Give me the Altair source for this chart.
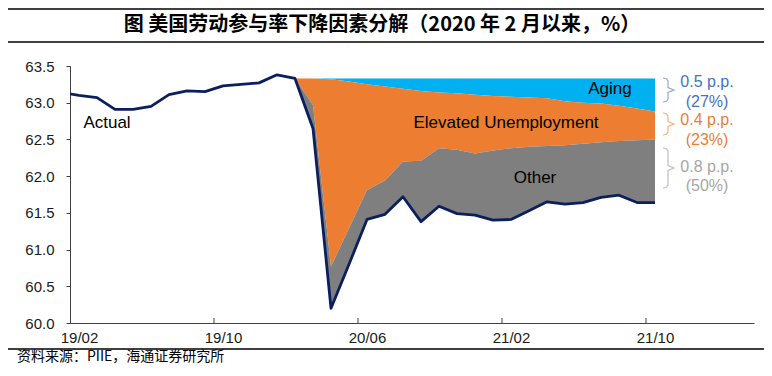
import altair as alt
import pandas as pd

# ---------------- data ----------------
months = ["19/01", "19/02", "19/03", "19/04", "19/05", "19/06", "19/07", "19/08",
          "19/09", "19/10", "19/11", "19/12", "20/01", "20/02", "20/03", "20/04",
          "20/05", "20/06", "20/07", "20/08", "20/09", "20/10", "20/11", "20/12",
          "21/01", "21/02", "21/03", "21/04", "21/05", "21/06", "21/07", "21/08",
          "21/09", "21/10"]
actual = [63.14, 63.10, 63.07, 62.91, 62.91, 62.95, 63.11, 63.16, 63.15, 63.23,
          63.25, 63.27, 63.38, 63.33, 62.65, 60.20, 60.80, 61.41, 61.48, 61.72,
          61.38, 61.59, 61.49, 61.47, 61.40, 61.41, 61.53, 61.65, 61.62, 61.64,
          61.71, 61.74, 61.64, 61.64]
# decomposition since 2020/02 (percentage points)
decomp_start = "20/02"
aging = [0.00, 0.00, 0.01, 0.04, 0.08, 0.11, 0.14, 0.17, 0.19, 0.20, 0.22,
         0.24, 0.25, 0.26, 0.27, 0.31, 0.33, 0.34, 0.37, 0.41, 0.45]
unemployment = [0.00, 0.36, 2.55, 2.00, 1.44, 1.28, 0.99, 0.95, 0.76, 0.77, 0.80,
                0.74, 0.70, 0.67, 0.65, 0.60, 0.56, 0.53, 0.48, 0.43, 0.38]

tick_labels = ["19/02", "19/10", "20/06", "21/02", "21/10"]
y_ticks = [60.0, 60.5, 61.0, 61.5, 62.0, 62.5, 63.0, 63.5]

title_text = "图  美国劳动参与率下降因素分解（2020 年 2 月以来，%）"
source_text = "资料来源：PIIE，海通证券研究所"
series_labels = ["Actual", "Aging", "Elevated Unemployment", "Other"]
side_labels = [["0.5 p.p.", "(27%)"], ["0.4 p.p.", "(23%)"], ["0.8 p.p.", "(50%)"]]

# ---------------- tables ----------------
# month index: 0 = 2019/02
t_index = [i - 1 for i in range(len(months))]
df_line = pd.DataFrame({"t": t_index, "v": actual, "m": months})

s = months.index(decomp_start)
top = actual[s]
rows = []
for j in range(len(aging)):
    a_bot = top - aging[j]
    u_bot = a_bot - unemployment[j]
    rows.append({"t": t_index[s + j], "top": top, "a_bot": a_bot,
                 "u_bot": u_bot, "o_bot": actual[s + j]})
df_area = pd.DataFrame(rows)

tick_values = [t_index[months.index(lab)] for lab in tick_labels]
label_expr = ""
for v, lab in zip(tick_values, tick_labels):
    label_expr += f"datum.value == {v} ? '{lab}' : "
label_expr += "''"

# ---------------- style ----------------
W, H = 684, 257
AX = "#404040"
FONT = "Liberation Sans"
CJK = "Noto Sans CJK SC"
x_scale = alt.Scale(domain=[-0.5, 37.5], nice=False, zero=False)
y_scale = alt.Scale(domain=[60, 63.5], nice=False, zero=False)

x_axis = alt.Axis(values=tick_values, labelExpr=label_expr, ticks=False, grid=False,
                  domainColor=AX, domainWidth=1, labelFont=FONT, labelFontSize=15,
                  labelColor="#1a1a1a", labelPadding=7, title=None, labelFlush=False,
                  labelOverlap=False)
y_axis = alt.Axis(values=y_ticks, format=".1f", tickSize=4, tickColor=AX,
                  domainColor=AX, domainWidth=1, labelFont=FONT, labelFontSize=15,
                  labelColor="#1a1a1a", labelPadding=12, grid=False, title=None,
                  labelOverlap=False, labelFlush=False)

X = alt.X("t:Q", scale=x_scale, axis=x_axis)

aging_area = alt.Chart(df_area).mark_area(color="#00B0F0").encode(
    x=X, y=alt.Y("top:Q", scale=y_scale, axis=y_axis), y2="a_bot:Q")
unemp_area = alt.Chart(df_area).mark_area(color="#ED7D31").encode(
    x=X, y=alt.Y("a_bot:Q", scale=y_scale, axis=y_axis), y2="u_bot:Q")
other_area = alt.Chart(df_area).mark_area(color="#7F7F7F").encode(
    x=X, y=alt.Y("u_bot:Q", scale=y_scale, axis=y_axis), y2="o_bot:Q")
line = alt.Chart(df_line).mark_line(color="#0B1F5E", strokeWidth=2.8,
                                    strokeJoin="round", clip=True).encode(
    x=X, y=alt.Y("v:Q", scale=y_scale, axis=y_axis))

xticks = alt.Chart(pd.DataFrame({"t": [v - 0.5 for v in tick_values[1:]]})).mark_rule(
    color=AX, strokeWidth=1).encode(
    x=alt.X("t:Q", scale=x_scale, axis=x_axis), y=alt.value(H), y2=alt.value(H - 5))

one = pd.DataFrame({"k": [0]})


def txt(text, x, y, size, color="#000000", font=FONT, weight="normal", align="center"):
    return alt.Chart(one).mark_text(fontSize=size, font=font, fontWeight=weight,
                                    color=color, align=align, baseline="middle").encode(
        x=alt.value(x), y=alt.value(y), text=alt.value(text))


def rule(x1, x2, y, color="#000000", w=1.5):
    return alt.Chart(one).mark_rule(color=color, strokeWidth=w).encode(
        x=alt.value(x1), x2=alt.value(x2), y=alt.value(y))


texts = [
    txt(title_text, 312, -41, 20, font=CJK, weight="bold"),
    txt(source_text, -53, 291, 14, font=CJK, align="left"),
    txt(series_labels[0], 37, 57, 17),
    txt(series_labels[1], 540, 23, 17),
    txt(series_labels[2], 436, 57, 17),
    txt(series_labels[3], 465, 112, 17),
]
side_colors = ["#4472C4", "#ED7D31", "#A6A6A6"]
side_y = [(16, 36), (54, 74), (101, 120)]
for (l1, l2), c, (y1, y2) in zip(side_labels, side_colors, side_y):
    texts.append(txt(l1, 637, y1, 16, color=c))
    texts.append(txt(l2, 637, y2, 16, color=c))

lines = [rule(-62, 694, -57), rule(-62, 694, -24), rule(-62, 694, 283)]

# braces (decoration)
brace_cols = ["#8FAADC", "#F4B183", "#BFBFBF"]
brace_span = [(12, 36), (47, 69), (82, 122)]
brows = []
for b, ((t0, t1), c) in enumerate(zip(brace_span, brace_cols)):
    x0, xm, x1 = 593, 598, 604
    mid = (t0 + t1) / 2
    pts = [(x0, t0), (xm - 1.5, t0 + 0.7), (xm, t0 + 3), (xm, mid - 2.5), (x1, mid),
           (xm, mid + 2.5), (xm, t1 - 3), (xm - 1.5, t1 - 0.7), (x0, t1)]
    for k, (px, py) in enumerate(pts):
        brows.append({"b": b, "k": k, "px": px, "py": py, "c": c})
braces = alt.Chart(pd.DataFrame(brows)).mark_line(strokeWidth=1.2).encode(
    x=alt.X("px:Q", scale=None), y=alt.Y("py:Q", scale=None),
    detail="b:N", order="k:Q", color=alt.Color("c:N", scale=None))

chart = alt.layer(aging_area, unemp_area, other_area, line, xticks, braces,
                  *lines, *texts).properties(
    width=W, height=H,
    padding={"left": 62, "top": 58, "right": 10, "bottom": 45},
    autosize=alt.AutoSizeParams(type="none"),
    background="white",
).configure_view(stroke=None)

chart.save("out.html", embed_options={"renderer": "svg", "actions": False})
